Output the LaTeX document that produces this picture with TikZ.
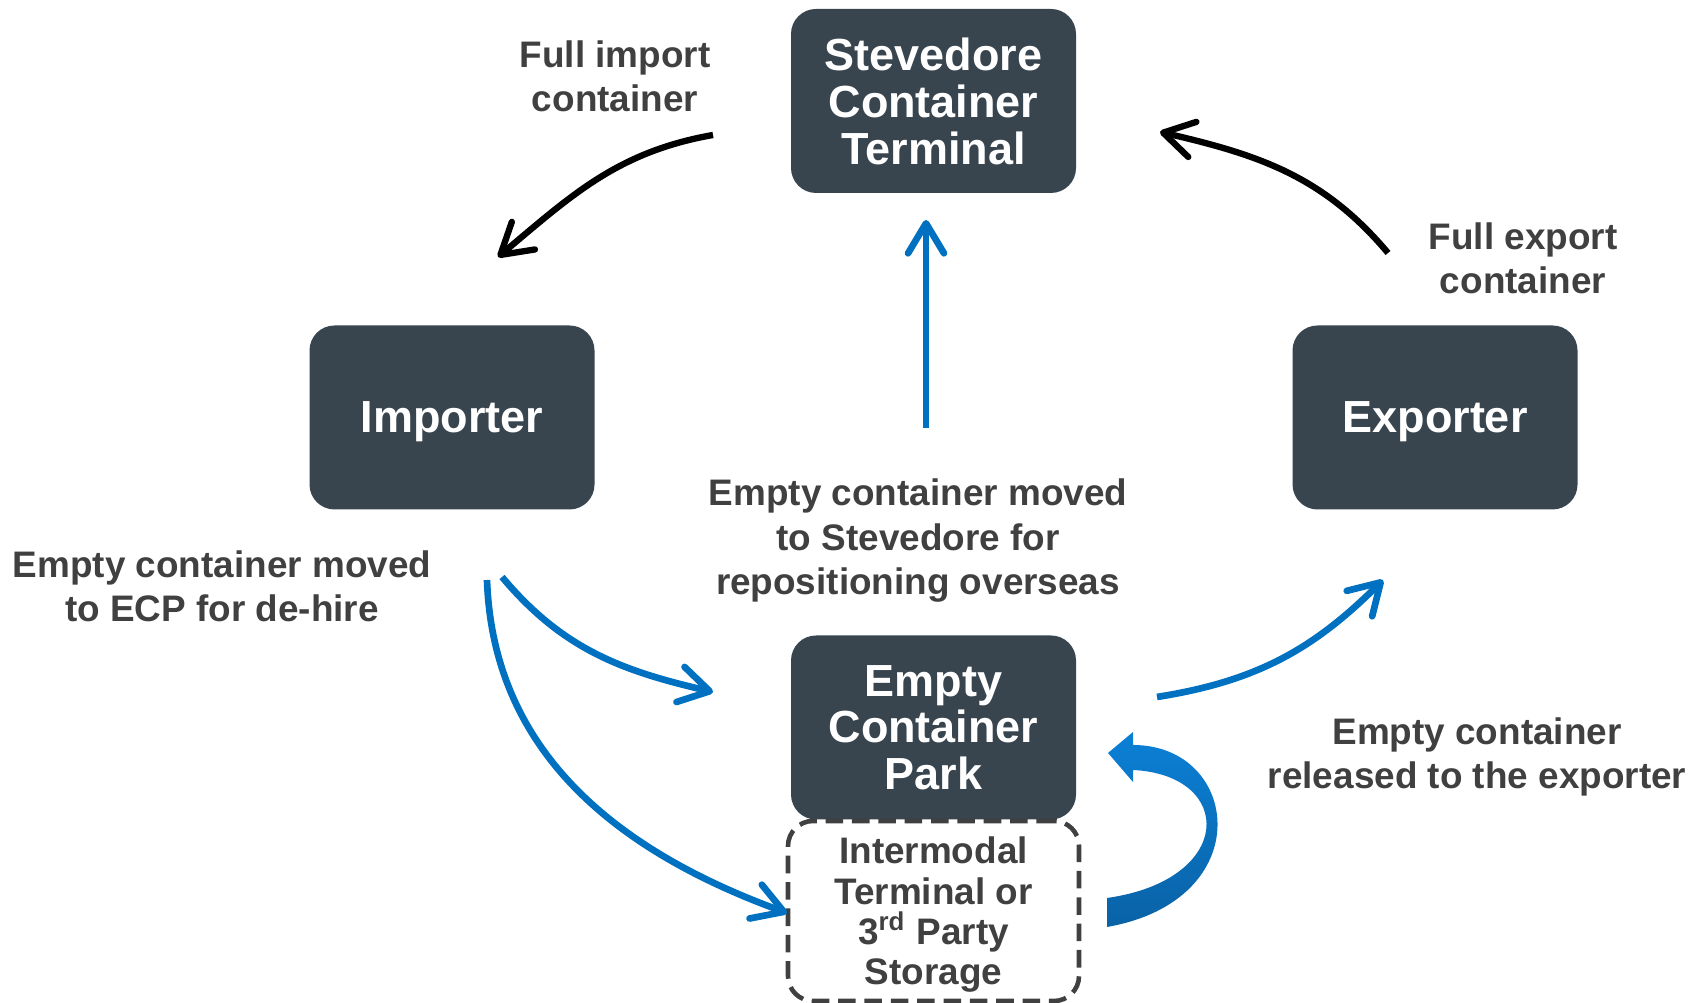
\documentclass[tikz,border=0pt]{standalone}
\usepackage{fontspec}
\setmainfont{Liberation Sans}
\usetikzlibrary{arrows.meta}

\definecolor{boxgray}{HTML}{38454F}
\definecolor{txtgray}{HTML}{404040}
\definecolor{flowblue}{HTML}{0070C0}
\definecolor{fatlight}{HTML}{0B80D6}
\definecolor{fatdark}{HTML}{0A62A6}

\begin{document}
\begin{tikzpicture}[
	box/.style={fill=boxgray, text=white, rounded corners=0.25cm, minimum width=2.85cm, minimum height=1.84cm, inner sep=0pt, text depth=0pt, align=center, font=\fontsize{12.8}{13.3}\selectfont\bfseries},
	storebox/.style={draw=txtgray, line width=1.3pt, dash pattern=on 5pt off 2.5pt, rounded corners=0.25cm, minimum width=2.91cm, minimum height=1.80cm, inner sep=0pt, text depth=0pt, align=center, text=txtgray, font=\fontsize{10.5}{11.5}\selectfont\bfseries},
	lbl/.style={text=txtgray, inner sep=0pt, text depth=0pt, align=center, font=\fontsize{10.5}{12.7}\selectfont\bfseries},
	bluearr/.style={draw=flowblue, line width=1.9pt, -{Straight Barb[length=0.3cm,width=0.36cm,round]}},
	blackarr/.style={draw=black, line width=1.8pt, -{Straight Barb[length=0.3cm,width=0.36cm,round]}}]
\useasboundingbox (0,0) rectangle (16.98,10.03);

% boxes
\node[box] (term) at (9.335,9.02) {Stevedore\\Container\\Terminal};
\node[box] (imp) at (4.52,5.855) {Importer};
\node[box] (exp) at (14.35,5.855) {Exporter};
\node[box] (ecp) at (9.335,2.755) {Empty\\Container\\Park};
\node[storebox] (store) at (9.335,0.92) {Intermodal\\Terminal or\\3\textsuperscript{rd} Party\\Storage};

% labels
\node[lbl] (fullimp) at (6.15,9.27) {Full import\\container};
\node[lbl] (fullexp) at (15.23,7.45) {Full export\\container};
\node[lbl] (repos) at (9.18,4.66) {Empty container moved\\to Stevedore for\\repositioning overseas};
\node[lbl] (dehire) at (2.22,4.17) {Empty container moved\\to ECP for de-hire};
\node[lbl] (release) at (14.77,2.50) {Empty container\\released to the exporter};

% arrow ends
\coordinate (imptail) at (7.13,8.68);
\coordinate (imphead) at (4.98,7.46);
\coordinate (exptail) at (13.88,7.50);
\coordinate (exphead) at (11.60,8.71);
\coordinate (repotail) at (9.26,5.75);
\coordinate (repohead) at (9.26,7.83);
\coordinate (dehtail) at (5.02,4.26);
\coordinate (dehhead) at (7.13,3.11);
\coordinate (sttail) at (4.87,4.23);
\coordinate (sthead) at (7.87,0.90);
\coordinate (reltail) at (11.57,3.06);
\coordinate (relhead) at (13.83,4.23);

% full containers
\draw[blackarr] (imptail) to[out=190,in=40] (imphead);
\draw[blackarr] (exptail) to[out=130,in=-13] (exphead);

% empty containers
\draw[bluearr] (repotail) -- (repohead);
\draw[bluearr] (dehtail) to[out=-50,in=167] (dehhead);
\draw[bluearr] (sttail) to[out=-88,in=160] (sthead);
\draw[bluearr] (reltail) to[out=9,in=225] (relhead);

% storage back to park
\path[top color=fatlight, bottom color=fatdark] (11.07,0.76) .. controls (12.60,1.03) and (12.40,2.58) .. (11.33,2.58)
	-- (11.33,2.71) -- (11.08,2.50) -- (11.33,2.21) -- (11.33,2.33)
	.. controls (12.35,2.28) and (12.35,1.23) .. (11.07,1.05) -- cycle;

\end{tikzpicture}
\end{document}
